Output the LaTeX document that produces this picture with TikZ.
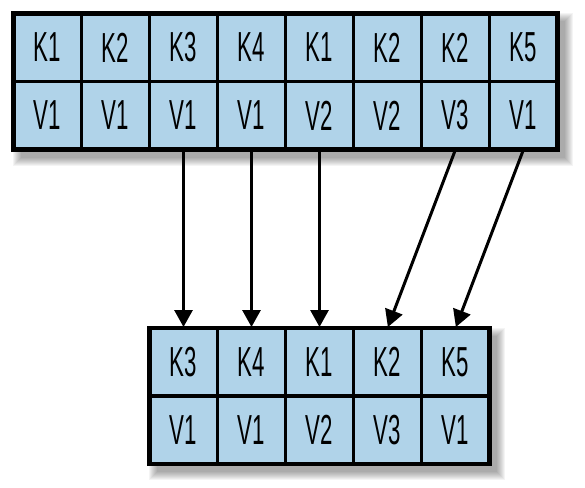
\documentclass[tikz,border=0pt]{standalone}
\usepackage{fontspec}
\setmainfont{Liberation Sans}[FakeStretch=0.53]
\usetikzlibrary{arrows.meta}
\definecolor{cellblue}{RGB}{176,211,233}
\tikzset{
  cell/.style={draw=black, fill=cellblue, line width=3.5pt, minimum width=68pt, minimum height=68pt, inner sep=0pt, outer sep=0pt, font=\fontsize{42}{42}\selectfont},
  border/.style={draw=black, line width=4.5pt},
  link/.style={line width=3pt, -{Triangle[length=17pt,width=18pt]}, shorten >=1pt},
}
\begin{document}
\begin{tikzpicture}[x=1pt,y=-1pt]
\useasboundingbox (0,0) rectangle (585,487);
% shadows
\foreach \r in {0,1,...,8}{
  \fill[black,opacity=0.045] (13.5+7-\r,13.5+8-\r) rectangle (557.5+7+\r,150+8+\r);
  \fill[black,opacity=0.045] (149.5+7-\r,328+8-\r) rectangle (489.5+7+\r,464+8+\r);
}
% top grid
\foreach \k/\v [count=\i] in {K1/V1,K2/V1,K3/V1,K4/V1,K1/V2,K2/V2,K2/V3,K5/V1}{
  \node[cell] (t\i) at (47.5+68*\i-68,47.5) {\k};
  \node[cell] (tv\i) at (47.5+68*\i-68,115.5) {\v};
}
\draw[border] (t1.north west) rectangle (tv8.south east);
% bottom grid
\foreach \k/\v [count=\j] in {K3/V1,K4/V1,K1/V2,K2/V3,K5/V1}{
  \node[cell] (b\j) at (183.5+68*\j-68,362) {\k};
  \node[cell] (bv\j) at (183.5+68*\j-68,430) {\v};
}
\draw[border] (b1.north west) rectangle (bv5.south east);
% arrows
\draw[link] (tv3.south) -- (b1.north);
\draw[link] (tv4.south) -- (b2.north);
\draw[link] (tv5.south) -- (b3.north);
\draw[link] (tv7.south) -- (b4.north);
\draw[link] (tv8.south) -- (b5.north);
\end{tikzpicture}
\end{document}
